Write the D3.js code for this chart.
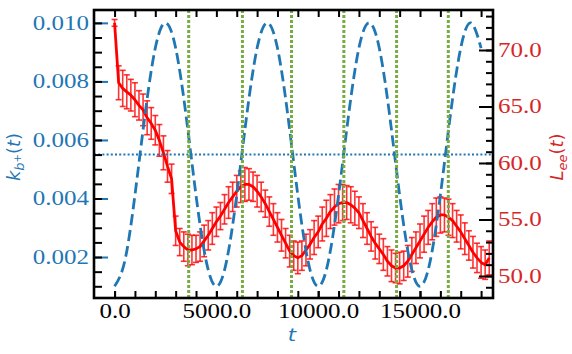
<!DOCTYPE html>
<html>
<head>
<meta charset="utf-8">
<script src="https://cdn.jsdelivr.net/npm/d3@7"></script>
<style>
  html, body { margin: 0; padding: 0; background: #fff; }
  svg { display: block; }
  .domain { display: none; }
  text.num { font-family: "Liberation Serif", "Times New Roman", Times, serif; font-size: 20px; }
</style>
</head>
<body>
<div id="chart"></div>
<script>
// ---- data ----
// t grid of the measured series (every 200)
const redStep = 200;
const lee = [72.4, 67.1, 66.6, 66.3, 66.0, 65.6, 65.1, 64.7, 64.0, 63.5,
  62.9, 62.0, 60.9, 59.7, 58.6, 54.0, 53.0, 52.6, 52.3, 52.3,
  52.4, 52.6, 53.1, 53.6, 54.2, 54.8, 55.3, 55.9, 56.5, 57.0,
  57.5, 57.9, 58.1, 58.1, 57.9, 57.5, 57.0, 56.4, 55.7, 55.0,
  54.3, 53.6, 52.9, 52.2, 51.8, 51.6, 51.8, 52.3, 52.8, 53.4,
  53.9, 54.6, 55.1, 55.7, 56.1, 56.4, 56.5, 56.5, 56.3, 56.0,
  55.6, 54.9, 54.2, 53.5, 52.9, 52.4, 51.9, 51.3, 50.9, 50.7,
  50.7, 50.9, 51.3, 51.9, 52.5, 53.1, 53.7, 54.3, 54.8, 55.2,
  55.4, 55.4, 55.2, 54.9, 54.4, 53.9, 53.3, 52.7, 52.1, 51.6,
  51.2, 51.0, 51.6];
const leeErr = [0.3,
  1.5, 1.6, 1.5, 1.4, 1.5, 1.3, 1.4, 1.5, 1.4, 1.3, 1.4, 1.5, 1.4, 1.3,
  1.3, 1.2, 1.3, 1.4, 1.3, 1.2, 1.3, 1.4, 1.3, 1.4, 1.3, 1.2, 1.3, 1.4, 1.3, 1.4,
  1.4, 1.5, 1.4, 1.3, 1.4, 1.3, 1.2, 1.3, 1.4, 1.3, 1.4, 1.3, 1.4, 1.3, 1.4, 1.3,
  1.4, 1.3, 1.5, 1.4, 1.5, 1.6, 1.5, 1.6, 1.7, 1.6, 1.5, 1.6, 1.5, 1.4, 1.5, 1.4,
  1.3, 1.4, 1.3, 1.4, 1.3, 1.4, 1.3, 1.4, 1.3, 1.4, 1.5, 1.4, 1.5, 1.6, 1.5, 1.6,
  1.7, 1.6, 1.5, 1.6, 1.5, 1.4, 1.5, 1.4, 1.3, 1.4, 1.3, 1.4, 1.3, 1.5];

// driving rate k_b+(t), sampled every 500
const kStep = 500;
const kb = [0.0010, 0.00186, 0.00411, 0.00689, 0.00914, 0.0100, 0.00914, 0.00689, 0.00411, 0.00186,
  0.0010, 0.00186, 0.00411, 0.00689, 0.00914, 0.0100, 0.00914, 0.00689, 0.00411, 0.00186,
  0.0010, 0.00186, 0.00411, 0.00689, 0.00914, 0.0100, 0.00914, 0.00689, 0.00411, 0.00186,
  0.0010, 0.00186, 0.00411, 0.00689, 0.00914, 0.0100, 0.00914];
const kbMean = 0.0055;
const greenT = [3640, 6280, 8690, 11260, 13850, 16390];

// tick values
const xMajor = [0, 5000, 10000, 15000];
const xMinor = [0, 1000, 2000, 3000, 4000, 5000, 6000, 7000, 8000, 9000, 10000,
  11000, 12000, 13000, 14000, 15000, 16000, 17000, 18000];
const kMajor = [0.002, 0.004, 0.006, 0.008, 0.010];
const kMinor = [0.001, 0.0015, 0.002, 0.0025, 0.003, 0.0035, 0.004, 0.0045, 0.005, 0.0055,
  0.006, 0.0065, 0.007, 0.0075, 0.008, 0.0085, 0.009, 0.0095, 0.010];
const lMajor = [50, 55, 60, 65, 70];
const lMinor = [49, 50, 51, 52, 53, 54, 55, 56, 57, 58, 59, 60, 61, 62, 63, 64, 65,
  66, 67, 68, 69, 70, 71, 72, 73];

// ---- layout ----
const W = 572, H = 354;
const margin = {left: 94, top: 10, right: 79, bottom: 56};
const width = W - margin.left - margin.right;
const height = H - margin.top - margin.bottom;
const BLUE = "#1f77b4", RED = "#d62728", GREEN = "#77ac41";
const SX = 1.25; // horizontal stretch of the lettering

const x = d3.scaleLinear().domain([-1010, 18585]).range([0, width]);
const yL = d3.scaleLinear().domain([0.0006, 0.01044]).range([height, 0]);
const yR = d3.scaleLinear().domain([48.05, 73.54]).range([height, 0]);

const svg = d3.select("#chart").append("svg")
  .attr("width", W).attr("height", H);
const g = svg.append("g")
  .attr("transform", "translate(" + margin.left + "," + margin.top + ")");

g.append("clipPath").attr("id", "clip")
  .append("rect").attr("width", width).attr("height", height);
const plot = g.append("g").attr("clip-path", "url(#clip)");

// red measured series with error bars
const red = lee.map((v, i) => ({t: i * redStep, v: v, e: leeErr[i]}));
const bars = plot.append("g").attr("stroke", "#ff0000").attr("stroke-width", 1.6)
  .attr("stroke-opacity", 0.8);
bars.selectAll("line.eb").data(red).enter().append("line")
  .attr("x1", d => x(d.t)).attr("x2", d => x(d.t))
  .attr("y1", d => yR(d.v - d.e)).attr("y2", d => yR(d.v + d.e));
bars.selectAll("line.capT").data(red).enter().append("line")
  .attr("x1", d => x(d.t) - 3).attr("x2", d => x(d.t) + 3)
  .attr("y1", d => yR(d.v + d.e)).attr("y2", d => yR(d.v + d.e));
bars.selectAll("line.capB").data(red).enter().append("line")
  .attr("x1", d => x(d.t) - 3).attr("x2", d => x(d.t) + 3)
  .attr("y1", d => yR(d.v - d.e)).attr("y2", d => yR(d.v - d.e));
plot.append("path").datum(red)
  .attr("fill", "none").attr("stroke", "#ff0000").attr("stroke-width", 2.8)
  .attr("stroke-linejoin", "round")
  .attr("d", d3.line().x(d => x(d.t)).y(d => yR(d.v)));

// blue dashed k_b+(t)
plot.append("path").datum(kb.map((v, i) => ({t: i * kStep, v: v})))
  .attr("fill", "none").attr("stroke", BLUE).attr("stroke-width", 2.8)
  .attr("stroke-dasharray", "11,5")
  .attr("d", d3.line().curve(d3.curveNatural).x(d => x(d.t)).y(d => yL(d.v)));

// mean level
plot.append("line")
  .attr("x1", 0).attr("x2", width)
  .attr("y1", yL(kbMean)).attr("y2", yL(kbMean))
  .attr("stroke", BLUE).attr("stroke-width", 2).attr("stroke-dasharray", "2,2.2");

// green markers
plot.selectAll("line.green").data(greenT).enter().append("line")
  .attr("x1", d => x(d)).attr("x2", d => x(d))
  .attr("y1", 0).attr("y2", height)
  .attr("stroke", GREEN).attr("stroke-width", 3).attr("stroke-dasharray", "3,2");

// ---- axes ----
function stretch(sel, dx) {
  sel.attr("font-family", null).attr("font-size", null);
  sel.selectAll("text").classed("num", true)
    .attr("x", dx / SX).attr("transform", "scale(" + SX + ",1)");
}

// left
g.append("g").call(d3.axisLeft(yL).tickValues(kMajor).tickSize(-14).tickPadding(5)
    .tickFormat(d3.format(".3f")))
  .call(a => a.selectAll("line").attr("stroke", BLUE).attr("stroke-width", 2))
  .call(a => a.selectAll("text").attr("fill", BLUE))
  .call(a => stretch(a, -5));
g.append("g").call(d3.axisLeft(yL).tickValues(kMinor).tickSize(-8).tickFormat(""))
  .call(a => a.selectAll("line").attr("stroke", "#000").attr("stroke-width", 2));

// right
g.append("g").attr("transform", "translate(" + width + ",0)")
  .call(d3.axisRight(yR).tickValues(lMajor).tickSize(-14).tickPadding(5)
    .tickFormat(d3.format(".1f")))
  .call(a => a.selectAll("line").attr("stroke", "#000").attr("stroke-width", 2))
  .call(a => a.selectAll("text").attr("fill", RED))
  .call(a => stretch(a, 5));
g.append("g").attr("transform", "translate(" + width + ",0)")
  .call(d3.axisRight(yR).tickValues(lMinor).tickSize(-7).tickFormat(""))
  .call(a => a.selectAll("line").attr("stroke", "#000").attr("stroke-width", 2));

// bottom
g.append("g").attr("transform", "translate(0," + height + ")")
  .call(d3.axisBottom(x).tickValues(xMajor).tickSize(-7).tickPadding(6)
    .tickFormat(d3.format(".1f")))
  .call(a => a.selectAll("line").attr("stroke", "#000").attr("stroke-width", 2))
  .call(a => a.selectAll("text").attr("fill", "#000"))
  .call(a => stretch(a, 0));
g.append("g").attr("transform", "translate(0," + height + ")")
  .call(d3.axisBottom(x).tickValues(xMinor).tickSize(-7).tickFormat(""))
  .call(a => a.selectAll("line").attr("stroke", "#000").attr("stroke-width", 2));

// top
g.append("g")
  .call(d3.axisTop(x).tickValues(xMinor).tickSize(-7).tickFormat(""))
  .call(a => a.selectAll("line").attr("stroke", "#000").attr("stroke-width", 2));

// frame
g.append("rect").attr("width", width).attr("height", height)
  .attr("fill", "none").attr("stroke", "#000").attr("stroke-width", 2.6);

// ---- axis labels ----
function applyFont(t, size) {
  return t.style("font-family", "'DejaVu Sans', sans-serif")
    .style("font-style", "italic").style("font-size", size + "px");
}

applyFont(svg.append("text"), 17)
  .attr("transform", "translate(292,341) scale(" + SX + ",1)")
  .attr("text-anchor", "middle").attr("fill", BLUE).text("t");

const kl = applyFont(svg.append("text"), 18)
  .attr("transform", "translate(20,157) rotate(-90)")
  .attr("text-anchor", "middle").attr("fill", BLUE);
kl.append("tspan").text("k");
kl.append("tspan").attr("dy", 4).style("font-size", "13px").text("b");
kl.append("tspan").attr("dy", -3).style("font-size", "10px").style("font-style", "normal").text("+");
kl.append("tspan").attr("dy", -1).style("font-style", "normal").text("(");
kl.append("tspan").text("t");
kl.append("tspan").style("font-style", "normal").text(")");

const ll = applyFont(svg.append("text"), 18)
  .attr("transform", "translate(563,157) rotate(-90)")
  .attr("text-anchor", "middle").attr("fill", RED);
ll.append("tspan").text("L");
ll.append("tspan").attr("dy", 4).style("font-size", "13px").text("ee");
ll.append("tspan").attr("dy", -4).style("font-style", "normal").text("(");
ll.append("tspan").text("t");
ll.append("tspan").style("font-style", "normal").text(")");
</script>
</body>
</html>
